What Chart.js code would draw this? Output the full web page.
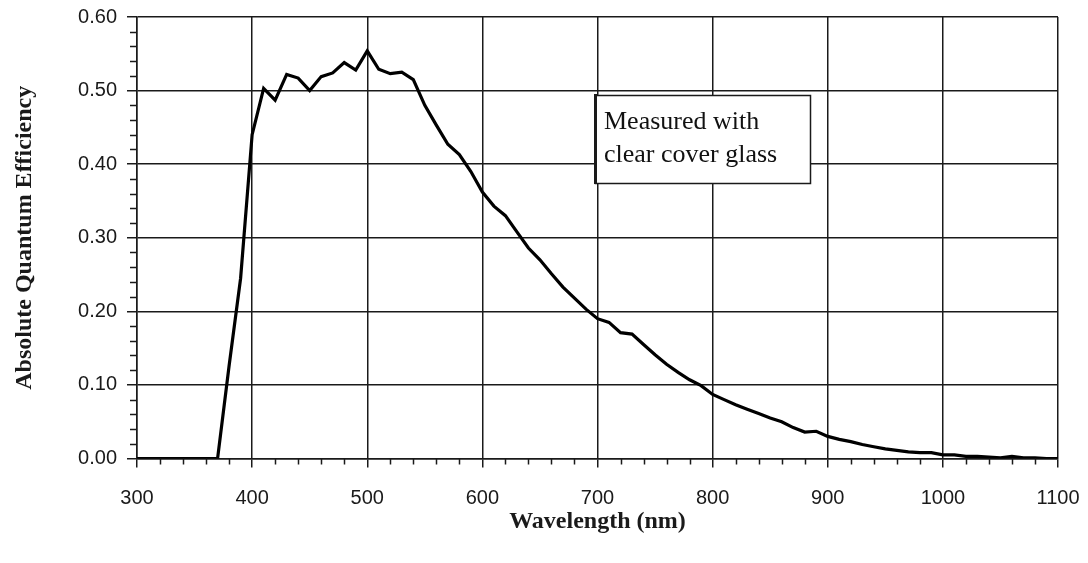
<!DOCTYPE html>
<html>
<head>
<meta charset="utf-8">
<script src="https://cdn.jsdelivr.net/npm/chart.js@4"></script>
<style>
  body { margin: 0; background: #fff; }
  canvas { display: block; }
</style>
</head>
<body>
<canvas id="qeChart" width="1088" height="563"></canvas>
<script>
// Absolute quantum efficiency vs wavelength
const wavelengths = [
    300, 310, 320, 330, 340, 350, 360, 370, 380, 390,
    400, 410, 420, 430, 440, 450, 460, 470, 480, 490,
    500, 510, 520, 530, 540, 550, 560, 570, 580, 590,
    600, 610, 620, 630, 640, 650, 660, 670, 680, 690,
    700, 710, 720, 730, 740, 750, 760, 770, 780, 790,
    800, 810, 820, 830, 840, 850, 860, 870, 880, 890,
    900, 910, 920, 930, 940, 950, 960, 970, 980, 990,
    1000, 1010, 1020, 1030, 1040, 1050, 1060, 1070, 1080, 1090, 1100
];
const efficiency = [
    0.000, 0.000, 0.000, 0.000, 0.000, 0.000, 0.000, 0.000, 0.126, 0.245,
    0.440, 0.503, 0.487, 0.522, 0.517, 0.500, 0.519, 0.524, 0.538, 0.528,
    0.554, 0.529, 0.523, 0.525, 0.515, 0.480, 0.453, 0.427, 0.413, 0.390,
    0.362, 0.343, 0.330, 0.308, 0.286, 0.270, 0.251, 0.233, 0.218, 0.203,
    0.190, 0.185, 0.171, 0.169, 0.155, 0.141, 0.128, 0.117, 0.107, 0.099,
    0.087, 0.080, 0.073, 0.067, 0.061, 0.055, 0.050, 0.042, 0.036, 0.037,
    0.030, 0.026, 0.023, 0.019, 0.016, 0.013, 0.011, 0.009, 0.008, 0.008,
    0.005, 0.005, 0.003, 0.003, 0.002, 0.001, 0.003, 0.001, 0.001, 0.000, 0.000
];

// Axis settings
const xMin = 300, xMax = 1100, xStep = 100, xMinorStep = 20;
const yMin = 0, yMax = 0.6, yStep = 0.1, yMinorStep = 0.02;
const noteLines = ['Measured with', 'clear cover glass'];

const ink = '#1a1a1a';

// Minor tick marks outside the axes
const minorTicks = {
    id: 'minorTicks',
    afterDraw(chart) {
        const ctx = chart.ctx;
        const xs = chart.scales.x, ys = chart.scales.y;
        const area = chart.chartArea;
        ctx.save();
        ctx.strokeStyle = ink;
        ctx.lineWidth = 1.5;
        ctx.beginPath();
        for (let v = xMin; v <= xMax + 0.001; v += xMinorStep) {
            if (Math.abs(v % xStep) < 0.001) continue;
            const px = Math.round(xs.getPixelForValue(v)) + 0.5;
            ctx.moveTo(px, area.bottom);
            ctx.lineTo(px, area.bottom + 6);
        }
        for (let i = 0; i * yMinorStep <= yMax + 1e-9; i++) {
            if (i % 5 === 0) continue;
            const py = Math.round(ys.getPixelForValue(i * yMinorStep)) + 0.5;
            ctx.moveTo(area.left, py);
            ctx.lineTo(area.left - 7, py);
        }
        ctx.stroke();
        ctx.restore();
    }
};

// Note box "Measured with clear cover glass"
const noteBox = {
    id: 'noteBox',
    afterDatasetsDraw(chart) {
        const ctx = chart.ctx;
        const xs = chart.scales.x, ys = chart.scales.y;
        const l = Math.round(xs.getPixelForValue(698));
        const r = Math.round(xs.getPixelForValue(885));
        const t = Math.round(ys.getPixelForValue(0.494));
        const b = Math.round(ys.getPixelForValue(0.375));
        ctx.save();
        ctx.fillStyle = '#fff';
        ctx.fillRect(l, t, r - l, b - t);
        ctx.strokeStyle = ink;
        ctx.lineWidth = 1.5;
        ctx.strokeRect(l + 0.5, t + 0.5, r - l, b - t);
        ctx.lineWidth = 3;
        ctx.beginPath();
        ctx.moveTo(l + 0.5, t - 1);
        ctx.lineTo(l + 0.5, b + 1);
        ctx.stroke();
        ctx.fillStyle = '#111';
        ctx.font = '26px "Liberation Serif", "Times New Roman", serif';
        ctx.textBaseline = 'middle';
        ctx.fillText(noteLines[0], l + 9, t + 27);
        ctx.fillText(noteLines[1], l + 9, t + 60);
        ctx.restore();
    }
};

const ctx = document.getElementById('qeChart').getContext('2d');
const chart = new Chart(ctx, {
    type: 'line',
    data: {
        datasets: [{
            data: wavelengths.map((w, i) => ({ x: w, y: efficiency[i] })),
            borderColor: '#000',
            borderWidth: 3.2,
            pointRadius: 0,
            tension: 0,
            fill: false
        }]
    },
    options: {
        responsive: false,
        animation: false,
        layout: { padding: { top: 17, right: 30, left: 0, bottom: 0 } },
        plugins: {
            legend: { display: false },
            tooltip: { enabled: false }
        },
        scales: {
            x: {
                type: 'linear',
                min: xMin,
                max: xMax,
                afterFit: (scale) => {
                    scale.height = 104.5;
                    scale.paddingLeft = 0;
                    scale.paddingRight = 0;
                },
                ticks: {
                    stepSize: xStep,
                    color: ink,
                    padding: 19,
                    font: { family: '"Liberation Sans", Arial, sans-serif', size: 20 },
                    maxRotation: 0,
                    autoSkip: false,
                    callback: (v) => String(v)
                },
                grid: { color: ink, lineWidth: 1.5, tickLength: 9 },
                border: { color: ink, width: 1.5 },
                title: {
                    display: true,
                    text: 'Wavelength (nm)',
                    color: ink,
                    padding: { top: 0, bottom: 27 },
                    font: { family: '"Liberation Serif", "Times New Roman", serif', size: 24, weight: 'bold' }
                }
            },
            y: {
                min: yMin,
                max: yMax,
                afterFit: (scale) => {
                    scale.width = 137;
                    scale.paddingTop = 0;
                    scale.paddingBottom = 0;
                },
                ticks: {
                    stepSize: yStep,
                    color: ink,
                    padding: 10,
                    font: { family: '"Liberation Sans", Arial, sans-serif', size: 20 },
                    callback: (v) => v.toFixed(2)
                },
                grid: { color: ink, lineWidth: 1.5, tickLength: 10 },
                border: { color: ink, width: 1.5 },
                title: {
                    display: true,
                    text: 'Absolute Quantum Efficiency',
                    color: ink,
                    padding: { top: 10, bottom: 0 },
                    font: { family: '"Liberation Serif", "Times New Roman", serif', size: 24, weight: 'bold' }
                }
            }
        }
    },
    plugins: [minorTicks, noteBox]
});
</script>
</body>
</html>
